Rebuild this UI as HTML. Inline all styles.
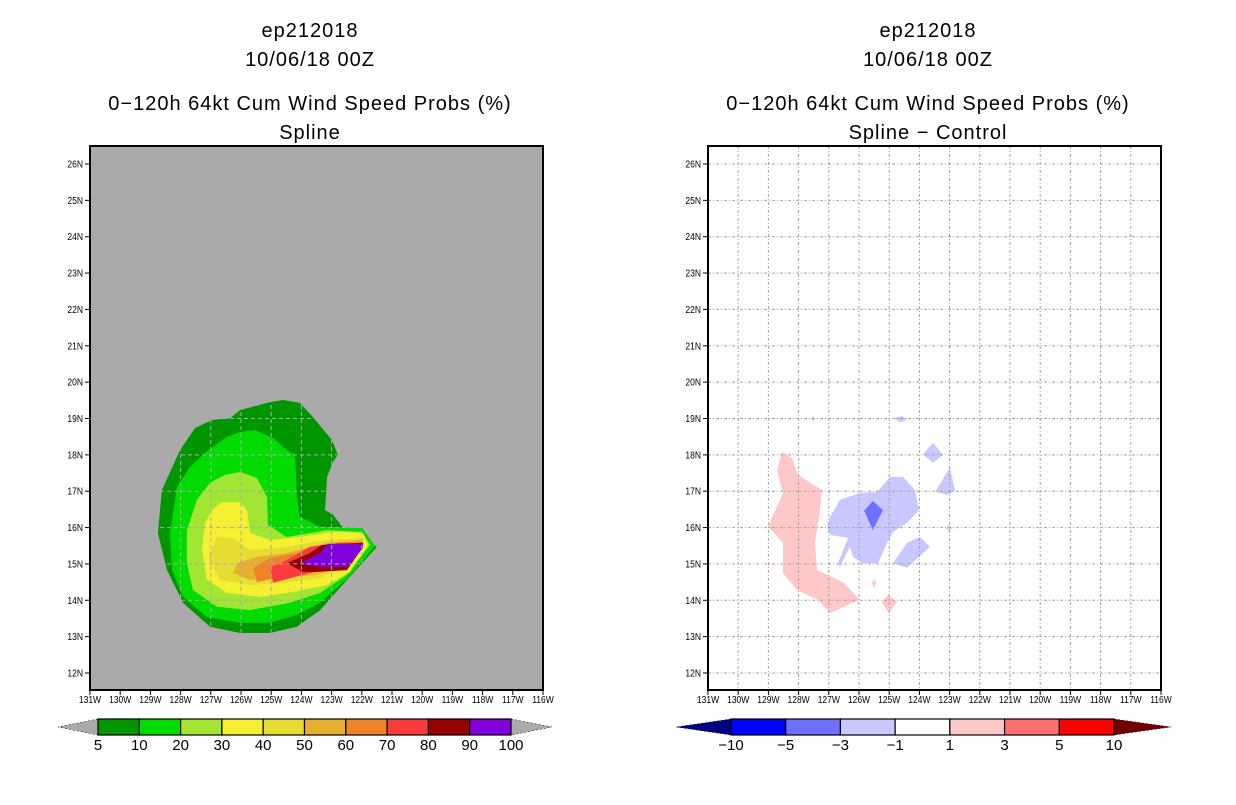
<!DOCTYPE html>
<html><head><meta charset="utf-8"><style>
body{margin:0;background:#fff;width:1236px;height:800px;overflow:hidden}
svg text{font-family:"Liberation Sans",sans-serif}
</style></head><body>
<svg id="s" width="1236" height="800" xmlns="http://www.w3.org/2000/svg"></svg>
<script>
const lonTicks=[131,130,129,128,127,126,125,124,123,122,121,120,119,118,117,116];
const latTicks=[12,13,14,15,16,17,18,19,20,21,22,23,24,25,26];
const probLevels=['5','10','20','30','40','50','60','70','80','90','100'];
const probColors=['#009600','#00dc00','#a0e632','#f5f032','#e6dc32','#e6af2d','#f08228','#fa3c3c','#960000','#8200dc'];
const diffLevels=['-10','-5','-3','-1','1','3','5','10'];
const diffColors=['#0000ff','#7070ff','#c8c8ff','#ffffff','#ffc8c8','#ff7070','#ff0000'];
const p5=[[126.03,19.23],[125.04,19.45],[124.61,19.51],[124.05,19.43],[123.62,19.04],[122.99,18.41],[122.79,18.0],[122.95,17.81],[123.15,17.39],[123.22,16.48],[122.95,16.35],[122.62,15.99],[121.5,15.47],[122.49,14.56],[123.38,13.73],[124.15,13.27],[125.04,13.1],[126.03,13.1],[127.03,13.27],[127.92,13.93],[128.45,14.83],[128.75,15.85],[128.62,17.03],[128.02,18.13],[127.52,18.74],[126.96,18.96],[126.36,19.01]];
const p10=[[125.54,18.68],[124.94,18.46],[124.48,18.13],[124.21,18.0],[124.15,16.84],[124.05,16.29],[123.38,16.02],[121.99,15.99],[121.56,15.49],[122.46,14.61],[123.38,13.93],[124.15,13.6],[125.04,13.38],[126.03,13.38],[127.13,13.54],[127.92,14.09],[128.28,14.83],[128.35,15.85],[128.12,17.12],[127.69,17.67],[127.09,18.13],[126.46,18.49],[126.03,18.63]];
const p20=[[126.03,17.53],[125.47,17.36],[125.14,16.84],[125.11,16.07],[124.48,15.74],[123.15,15.93],[121.99,15.88],[121.73,15.52],[122.49,14.7],[123.38,14.2],[124.38,13.93],[125.7,13.73],[126.79,13.82],[127.59,14.28],[127.79,15.02],[127.79,15.93],[127.46,16.76],[127.03,17.23],[126.53,17.45]];
const p30=[[126.63,16.7],[126.03,16.7],[125.8,16.48],[125.7,15.85],[125.04,15.66],[124.05,15.74],[122.95,15.88],[121.96,15.85],[121.79,15.52],[122.39,14.78],[123.15,14.42],[124.28,14.23],[125.37,14.09],[126.46,14.2],[127.13,14.56],[127.29,15.38],[127.19,16.13],[126.96,16.48]];
const p40=[[126.79,15.74],[126.26,15.71],[125.7,15.38],[124.71,15.44],[123.15,15.66],[121.96,15.71],[121.89,15.47],[122.49,14.92],[123.38,14.61],[124.61,14.48],[125.7,14.42],[126.7,14.56],[127.09,15.19]];
const p50=[[126.13,15.02],[125.47,15.19],[124.48,15.3],[123.15,15.58],[121.99,15.66],[121.96,15.44],[122.56,14.97],[123.48,14.7],[124.71,14.61],[125.7,14.56],[126.26,14.75]];
const p60=[[125.6,14.89],[125.04,15.16],[124.15,15.3],[123.15,15.52],[121.99,15.6],[121.99,15.44],[122.62,15.02],[123.62,14.75],[124.71,14.64],[125.47,14.5]];
const p70=[[125.04,14.92],[124.61,15.05],[123.72,15.47],[122.72,15.58],[121.99,15.58],[122.06,15.44],[122.66,15.02],[123.72,14.75],[124.94,14.48]];
const p80=[[124.48,15.02],[123.72,15.3],[123.32,15.52],[121.96,15.58],[121.96,15.47],[122.49,14.83],[123.48,14.78],[123.95,14.78]];
const p90=[[124.05,15.0],[123.38,15.3],[123.15,15.55],[121.96,15.55],[121.96,15.44],[122.46,14.92],[123.38,14.92]];
const dPos1=[[128.55,18.08],[128.22,17.91],[128.02,17.45],[127.23,17.03],[127.29,16.48],[127.39,15.93],[127.46,15.58],[127.39,14.83],[126.53,14.5],[125.97,14.01],[126.96,13.65],[127.36,14.01],[128.05,14.28],[128.52,14.75],[128.52,15.58],[129.01,16.02],[128.52,16.95],[128.72,17.58]];
const dPos2=[[125.04,14.15],[124.74,13.95],[125.01,13.65],[125.24,13.95]];
const dPos3=[[127.52,19.07],[127.45,18.99],[127.52,18.91],[127.59,18.99]];
const dPos4=[[123.02,16.08],[122.9,15.99],[123.02,15.9],[123.14,15.99]];
const dPos5=[[125.5,14.58],[125.42,14.48],[125.5,14.35],[125.58,14.48]];
const dNeg1=[[126.63,16.76],[125.97,16.95],[125.4,16.98],[124.97,17.39],[124.54,17.39],[124.15,17.03],[124.01,16.48],[124.41,16.13],[124.87,15.88],[125.07,15.58],[125.37,15.02],[125.87,15.02],[126.2,15.19],[126.3,15.47],[126.63,14.92],[126.7,15.02],[126.36,15.71],[126.96,15.8],[127.06,16.02],[126.96,16.29]];
const dNeg2=[[124.87,15.02],[124.41,15.58],[123.98,15.74],[123.65,15.47],[124.41,14.89]];
const dNeg3=[[123.55,18.33],[123.22,18.0],[123.55,17.78],[123.88,18.02]];
const dNeg4=[[122.99,17.64],[122.82,17.03],[123.05,16.9],[123.48,16.98]];
const dNeg5=[[124.87,19.01],[124.58,19.07],[124.41,18.96],[124.64,18.9]];
const dNeg3a=[[125.54,16.73],[125.21,16.48],[125.54,15.93],[125.83,16.46]];

const NS='http://www.w3.org/2000/svg', svg=document.getElementById('s');
function mk(t,a,p){const e=document.createElementNS(NS,t);for(const k in a)e.setAttribute(k,a[k]);(p||svg).appendChild(e);return e;}
function panel(x0){
  const W=453,T=146,B=690;
  return {x0,sx:lon=>x0+(131-lon)*W/15,sy:lat=>673-(lat-12)*(509/14),T,B,W};
}
function txt(x,y,s,size,anchor,name,p){const t=mk('text',{x,y,'font-size':size,'text-anchor':anchor||'middle',fill:'#000'},p);t.textContent=s;return t;}
function titles(cx,sub,pre){
  txt(cx,37,'ep212018',20,'middle',pre+'-storm-id').setAttribute('letter-spacing','1');
  txt(cx,66,'10/06/18 00Z',20,'middle',pre+'-date').setAttribute('letter-spacing','1');
  txt(cx,110,'0\u2212120h 64kt Cum Wind Speed Probs (%)',20,'middle',pre+'-title').setAttribute('letter-spacing','1');
  txt(cx,139,sub,20,'middle',pre+'-subtitle').setAttribute('letter-spacing','1');
}
function poly(P,pts,fill,name,g){
  const e=mk('polygon',{points:pts.map(p=>P.sx(p[0]).toFixed(1)+','+P.sy(p[1]).toFixed(1)).join(' '),fill},g);
  
  
}
function axes(P,pre,gridCol,dash){
  const g=mk('g',{});
  
  
  lonTicks.forEach(l=>{const x=P.sx(l);if(l<131&&l>116)mk('line',{x1:x,x2:x,y1:P.T,y2:P.B,stroke:gridCol,'stroke-dasharray':dash,'stroke-width':1},g);});
  latTicks.forEach(l=>{const y=P.sy(l);mk('line',{x1:P.x0,x2:P.x0+P.W,y1:y,y2:y,stroke:gridCol,'stroke-dasharray':dash,'stroke-width':1},g);});
  const f=mk('rect',{x:P.x0,y:P.T,width:P.W,height:P.B-P.T,fill:'none',stroke:'#000','stroke-width':2});
  
  
  lonTicks.forEach(l=>{const x=P.sx(l);mk('line',{x1:x,x2:x,y1:P.B,y2:P.B+5,stroke:'#000'});
    const t=txt(x,703,l+'W',10,'middle',pre+'-x-tick-label');t.setAttribute('transform',`translate(${x},0) scale(0.85,1) translate(${-x},0)`);});
  latTicks.forEach(l=>{const y=P.sy(l);mk('line',{x1:P.x0-5,x2:P.x0,y1:y,y2:y,stroke:'#000'});
    const t=txt(P.x0-7,y+3.5,l+'N',10,'end',pre+'-y-tick-label');t.setAttribute('transform',`translate(${P.x0-7},0) scale(0.85,1) translate(${-(P.x0-7)},0)`);});
}
function colorbar(x1,x2,tipL,tipR,cols,labels,lc,rc,pre){
  const y1=719,y2=735,n=cols.length,w=(x2-x1)/n;
  const g=mk('g',{});
  
  
  mk('polygon',{points:`${x1},${y1} ${tipL},${(y1+y2)/2} ${x1},${y2}`,fill:lc,stroke:'#000','stroke-width':0.5,'stroke-dasharray':'2,2'},g);
  mk('polygon',{points:`${x2},${y1} ${tipR},${(y1+y2)/2} ${x2},${y2}`,fill:rc,stroke:'#000','stroke-width':0.5,'stroke-dasharray':'2,2'},g);
  cols.forEach((c,i)=>{const r=mk('rect',{x:x1+i*w,y:y1,width:w,height:y2-y1,fill:c,stroke:'#000','stroke-width':1.2},g);
    });
  labels.forEach((s,i)=>txt(x1+i*w,750,s.replace('-','\u2212'),15,'middle',pre+'-colorbar-label',g));
}
const L=panel(90);
titles(310,'Spline','left');
const bg=mk('rect',{x:90,y:146,width:453,height:544,fill:'#aaaaaa'});

const lg=mk('g',{});


[p5,p10,p20,p30,p40,p50,p60,p70,p80,p90].forEach((p,i)=>poly(L,p,probColors[i],'prob-contour-'+probLevels[i],lg));
axes(L,'left','#aaaaaa','4,3');
colorbar(98,511,58,552,probColors,probLevels,'#aaaaaa','#aaaaaa','left');
const R=panel(708);
titles(928,'Spline \u2212 Control','right');
const rg=mk('g',{});


[dPos1,dPos2,dPos3,dPos4,dPos5].forEach(p=>poly(R,p,'#ffc8c8','diff-positive-1-3',rg));
[dNeg1,dNeg2,dNeg3,dNeg4,dNeg5].forEach(p=>poly(R,p,'#c8c8ff','diff-negative-1-3',rg));
poly(R,dNeg3a,'#7070ff','diff-negative-3-5',rg);
axes(R,'right','#a0a0a0','3,2,1,2');
colorbar(731,1114,676,1171,diffColors,diffLevels,'#000080','#700000','right');
</script>
</body></html>
